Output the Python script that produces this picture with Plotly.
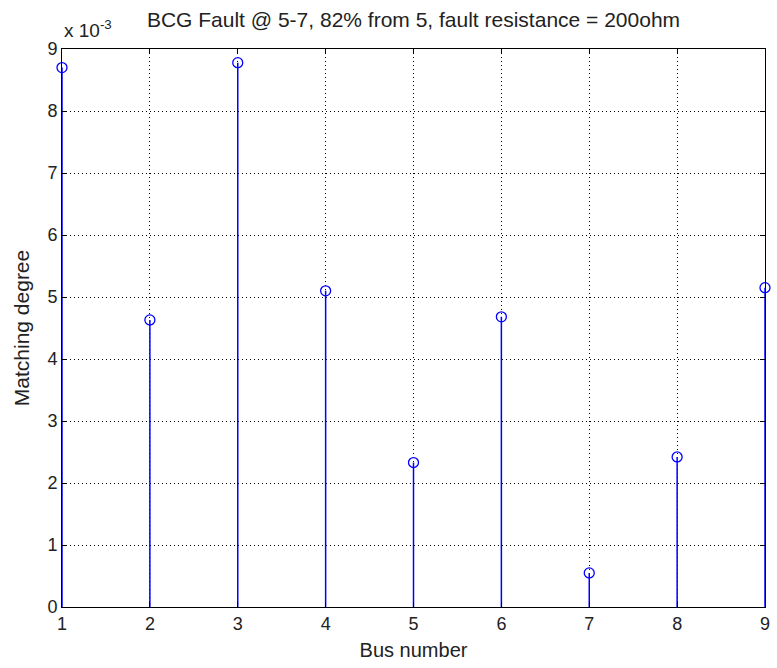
import plotly.graph_objects as go

buses = [1, 2, 3, 4, 5, 6, 7, 8, 9]
matching = [0.00870, 0.00463, 0.00878, 0.00510, 0.00233, 0.00468, 0.00055, 0.00242, 0.00515]
y_ticks = [0, 1, 2, 3, 4, 5, 6, 7, 8, 9]
y_scale = 1e-3
title_text = "BCG Fault @ 5-7, 82% from 5, fault resistance = 200ohm"

stem_x, stem_y = [], []
for b, v in zip(buses, matching):
    stem_x += [b, b, None]
    stem_y += [0, v, None]

fig = go.Figure()
fig.add_trace(go.Scatter(x=stem_x, y=stem_y, mode="lines",
                         line=dict(color="#0000ff", width=1.5), hoverinfo="skip",
                         showlegend=False))
fig.add_trace(go.Scatter(x=buses, y=matching, mode="markers",
                         marker=dict(symbol="circle-open", size=10,
                                     color="#0000ff", line=dict(width=1.3, color="#0000ff")),
                         cliponaxis=False, showlegend=False))

font = "Liberation Sans, Arial, sans-serif"
grid_dash = "1px,3px"
fig.update_layout(
    width=777, height=668,
    margin=dict(l=62, r=7, t=49, b=61),
    paper_bgcolor="white", plot_bgcolor="white",
    font=dict(family=font, size=18, color="#222222"),
    title=dict(text=title_text, x=0.5, xref="paper", xanchor="center",
               y=1 - 20 / 668, yref="container", yanchor="middle",
               font=dict(size=21, family=font, color="#222222")),
    xaxis=dict(range=[1, 9], tickvals=buses, ticks="inside", ticklen=5,
               tickcolor="black", showline=True, linecolor="black", linewidth=1,
               mirror="ticks", showgrid=True, gridcolor="black", griddash=grid_dash,
               gridwidth=1, zeroline=False, ticklabeloverflow="allow",
               title=dict(text="Bus number", font=dict(size=20), standoff=10),
               tickfont=dict(size=18)),
    yaxis=dict(range=[0, 9 * y_scale], tickvals=[t * y_scale for t in y_ticks],
               ticktext=[str(t) for t in y_ticks], ticks="inside", ticklen=5,
               tickcolor="black", showline=True, linecolor="black", linewidth=1,
               mirror="ticks", showgrid=True, gridcolor="black", griddash=grid_dash,
               gridwidth=1, zeroline=False, ticklabeloverflow="allow",
               title=dict(text="Matching degree", font=dict(size=21), standoff=12),
               tickfont=dict(size=18)),
)
fig.add_annotation(text="x 10<sup>-3</sup>", xref="paper", yref="paper",
                   x=0, y=1, xanchor="left", yanchor="bottom", yshift=6,
                   showarrow=False, font=dict(size=19, family=font, color="#222222"))

fig.write_html("out.html", config={"displayModeBar": False},
               post_script="document.body.style.margin='0';document.body.style.overflow='hidden';")
